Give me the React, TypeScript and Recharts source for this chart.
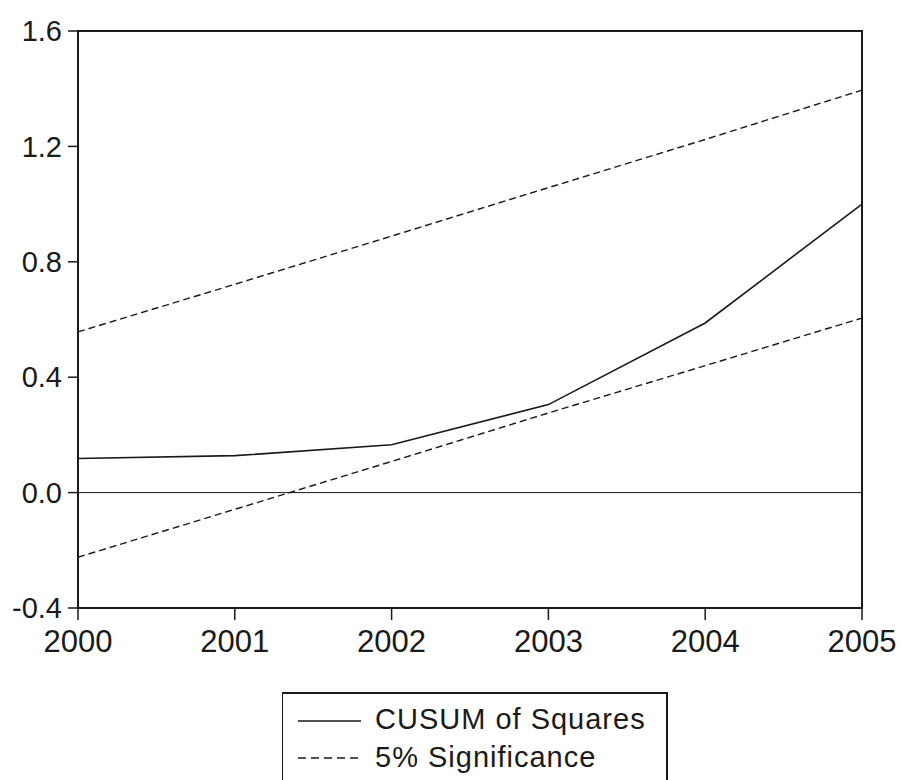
import { LineChart, Line, XAxis, YAxis, ReferenceLine, ReferenceArea } from "recharts";

// values
const years = [2000, 2001, 2002, 2003, 2004, 2005];
const cusum = [0.118, 0.128, 0.166, 0.305, 0.588, 1.0];
const upper = [0.557, 0.722, 0.889, 1.057, 1.224, 1.395];
const lower = [-0.224, -0.058, 0.108, 0.276, 0.44, 0.605];
const yTicks = [-0.4, 0.0, 0.4, 0.8, 1.2, 1.6];

const data = years.map((year, i) => ({ year, cusum: cusum[i], upper: upper[i], lower: lower[i] }));

const FONT = "'Liberation Sans', Arial, sans-serif";
const INK = "#1a1a1a";

const App = () => {
  return (
    <div style={{ position: "fixed", left: 0, top: 0, width: 904, height: 780, overflow: "hidden", background: "#fff" }}>
      <LineChart width={904} height={690} data={data} margin={{ top: 31, right: 42, left: 0, bottom: 32 }}>
        <ReferenceArea x1={2000} x2={2005} y1={-0.4} y2={1.6} fill="none" stroke={INK} strokeWidth={2} />
        <ReferenceLine y={0} stroke={INK} strokeWidth={1} />
        <XAxis
          dataKey="year"
          type="number"
          domain={[2000, 2005]}
          ticks={years}
          height={50}
          tickSize={12}
          tickMargin={10}
          axisLine={{ stroke: INK, strokeWidth: 2 }}
          tickLine={{ stroke: INK, strokeWidth: 1.5 }}
          tick={{ fontSize: 31, fill: INK, fontFamily: FONT }}
        />
        <YAxis
          type="number"
          domain={[-0.4, 1.6]}
          ticks={yTicks}
          width={78}
          tickSize={10}
          tickMargin={6}
          tickFormatter={(v: number) => v.toFixed(1)}
          axisLine={{ stroke: INK, strokeWidth: 2 }}
          tickLine={{ stroke: INK, strokeWidth: 1.5 }}
          tick={{ fontSize: 29, fill: INK, fontFamily: FONT }}
        />
        <Line dataKey="cusum" stroke={INK} strokeWidth={1.6} dot={false} isAnimationActive={false} />
        <Line dataKey="upper" stroke={INK} strokeWidth={1.4} strokeDasharray="7 4" dot={false} isAnimationActive={false} />
        <Line dataKey="lower" stroke={INK} strokeWidth={1.4} strokeDasharray="7 4" dot={false} isAnimationActive={false} />
      </LineChart>

      {/* legend box */}
      <div style={{ position: "absolute", left: 282, top: 692, width: 383, height: 110, borderTop: `2px solid ${INK}`, borderLeft: `1px solid ${INK}`, borderRight: `2px solid ${INK}` }}>
        <svg width={383} height={110} style={{ position: "absolute", left: 0, top: -2 }}>
          <line x1={15} x2={78} y1={29} y2={29} stroke={INK} strokeWidth={1.6} />
          <text x={92} y={37} fontSize={29} fontFamily={FONT} fill={INK} letterSpacing={1}>CUSUM of Squares</text>
          <line x1={15} x2={78} y1={66} y2={66} stroke={INK} strokeWidth={1.4} strokeDasharray="8 5" />
          <text x={92} y={75} fontSize={29} fontFamily={FONT} fill={INK} letterSpacing={1}>5% Significance</text>
        </svg>
      </div>
    </div>
  );
};

export default App;
